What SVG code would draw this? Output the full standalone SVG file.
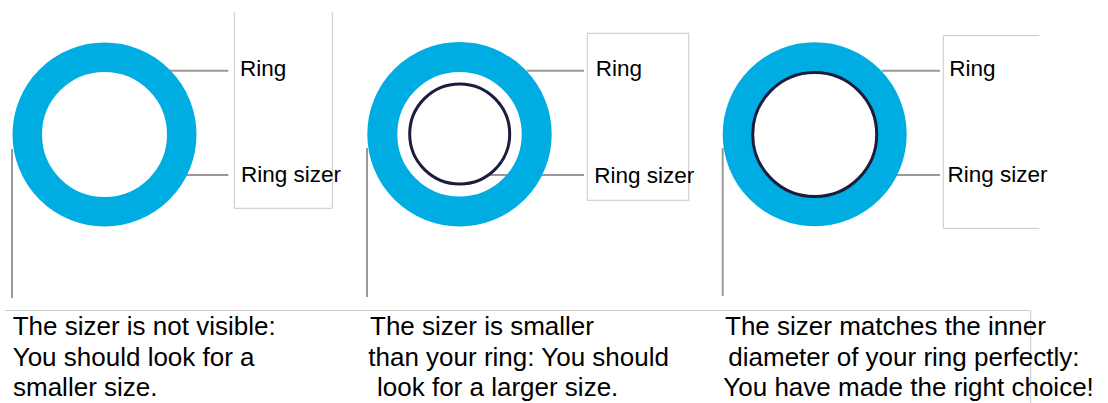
<svg xmlns="http://www.w3.org/2000/svg" width="1108" height="403" viewBox="0 0 1108 403">
<style>
.ring{fill:none;stroke:#00ade3;stroke-width:30}
.sizer{fill:none;stroke:#1e1c3c;stroke-width:3}
.box{fill:none;stroke:#c8c8c8;stroke-width:1}
.lead{stroke:#999;stroke-width:2;fill:none}
.lbl{font-family:"Liberation Sans",Arial,sans-serif;font-size:22.5px;fill:#000}
.cap{font-family:"Liberation Sans",Arial,sans-serif;font-size:26px;fill:#000}
</style>
<rect width="1108" height="403" fill="#fff"/>
<g id="connectors">
<line class="lead" x1="170" y1="70.7" x2="228.3" y2="70.7"/>
<line class="lead" x1="185" y1="175" x2="228.3" y2="175"/>
<line class="lead" x1="12" y1="149" x2="12" y2="298"/>
<line class="lead" x1="526.7" y1="70.7" x2="584" y2="70.7"/>
<line class="lead" x1="490" y1="175" x2="584" y2="175"/>
<line class="lead" x1="367" y1="148" x2="367" y2="297"/>
<line class="lead" x1="881.7" y1="70.7" x2="940" y2="70.7"/>
<line class="lead" x1="863.3" y1="175" x2="940" y2="175"/>
<line class="lead" x1="722.7" y1="148" x2="722.7" y2="296"/>
</g>
<g id="panel1">
<circle class="ring" cx="104.5" cy="134.5" r="77.25" style="stroke-width:29.5"/>
<polyline class="box" points="234.3,12 234.3,208.3 332.3,208.3 332.3,12"/>
<text class="lbl" x="240" y="76">Ring</text>
<text class="lbl" x="241" y="182">Ring sizer</text>
</g>
<g id="panel2">
<circle class="ring" cx="459.5" cy="134.3" r="77.2"/>
<circle class="sizer" cx="459.7" cy="134" r="50"/>
<rect class="box" x="587.3" y="33.3" width="101.4" height="167"/>
<text class="lbl" x="595.7" y="76">Ring</text>
<text class="lbl" x="594.3" y="182.5">Ring sizer</text>
</g>
<g id="panel3">
<circle class="ring" cx="814.7" cy="134.3" r="77"/>
<circle class="sizer" cx="814.7" cy="134.5" r="62"/>
<polyline class="box" points="1039.3,35.7 943.3,35.7 943.3,228.3 1039.3,228.3"/>
<text class="lbl" x="949.3" y="75.5">Ring</text>
<text class="lbl" x="947.5" y="182.3">Ring sizer</text>
</g>
<g id="captions">
<polyline class="box" points="5,310.5 1030.7,310.5 1030.7,403"/>
<text class="cap" x="12.7" y="335">The sizer is not visible:</text>
<text class="cap" x="12.7" y="365.5">You should look for a</text>
<text class="cap" x="13" y="396">smaller size.</text>
<text class="cap" x="370" y="335">The sizer is smaller</text>
<text class="cap" x="368.3" y="365.5">than your ring: You should</text>
<text class="cap" x="377" y="396">look for a larger size.</text>
<text class="cap" x="725" y="335">The sizer matches the inner</text>
<text class="cap" x="728.3" y="365.5">diameter of your ring perfectly:</text>
<text class="cap" x="723.3" y="396">You have made the right choice!</text>
</g>
</svg>
